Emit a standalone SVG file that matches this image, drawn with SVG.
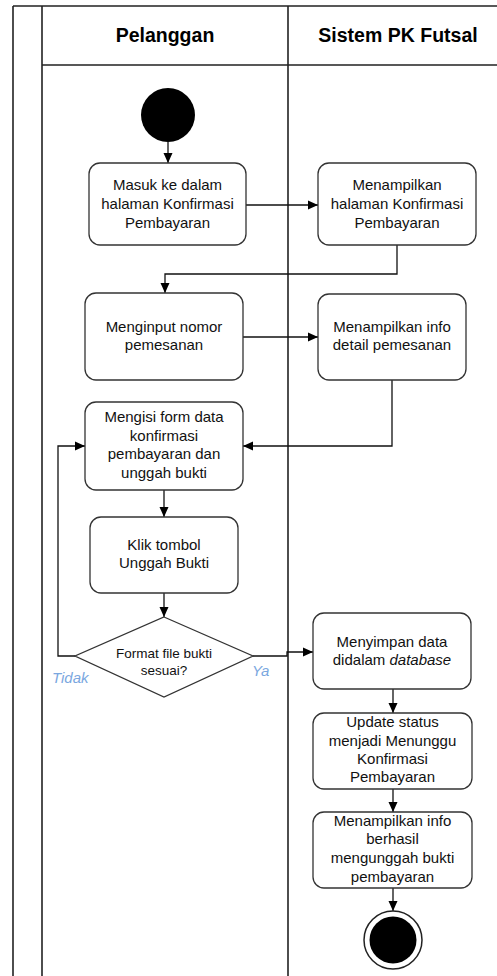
<svg xmlns="http://www.w3.org/2000/svg" width="497" height="976" viewBox="0 0 497 976">
<style>
.pool{stroke:#222;stroke-width:1.6;fill:none}
.box{fill:#fff;stroke:#333;stroke-width:1.3}
.t{font-family:"Liberation Sans",Arial,sans-serif;font-size:15px;fill:#111;text-anchor:middle}
.h{font-family:"Liberation Sans",Arial,sans-serif;font-size:19.5px;font-weight:bold;fill:#000;text-anchor:middle}
.d{font-size:13.5px}
.lbl{font-family:"Liberation Sans",Arial,sans-serif;font-size:15px;font-style:italic;fill:#7aa7e0}
.c{stroke:#111;stroke-width:1.3;fill:none;marker-end:url(#ah)}
.cn{stroke:#111;stroke-width:1.3;fill:none}
</style>
<defs>
<marker id="ah" viewBox="0 0 10 10" refX="10" refY="5" markerWidth="10" markerHeight="10" markerUnits="userSpaceOnUse" orient="auto">
<path d="M0,0.5 L10,5 L0,9.5 Z" fill="#000"/>
</marker>
</defs>
<rect width="497" height="976" fill="#fff"/>
<g id="pool">
<path class="pool" d="M13,6 H497 M13,6 V976 M42,6 V976 M288,6 V976 M42,65 H497"/>
<text class="h" x="165" y="42">Pelanggan</text>
<text class="h" x="398" y="42">Sistem PK Futsal</text>
</g>
<g id="connectors">
<path class="c" d="M168,142 V163"/>
<path class="c" d="M246,205 H318"/>
<path class="c" d="M397,245 V274 H165 V293"/>
<path class="c" d="M243,337 H318"/>
<path class="c" d="M392,380 V446 H243"/>
<path class="c" d="M164,490 V517"/>
<path class="c" d="M164,593 V617"/>
<path class="c" d="M75,656 H58 V446 H85"/>
<path class="c" d="M253,656 H287 V652 H313"/>
<path class="c" d="M393,689 V713"/>
<path class="c" d="M393,789 V812"/>
<path class="c" d="M393,888 V911"/>
</g>
<g id="start"><circle cx="168" cy="115" r="27" fill="#000"/></g>
<g id="n1">
<rect class="box" x="89" y="163" width="157" height="82" rx="11"/>
<text class="t" x="167.5" y="190">Masuk ke dalam</text>
<text class="t" x="167.5" y="209">halaman Konfirmasi</text>
<text class="t" x="167.5" y="228">Pembayaran</text>
</g>
<g id="n2">
<rect class="box" x="318" y="163" width="158" height="82" rx="11"/>
<text class="t" x="397" y="190">Menampilkan</text>
<text class="t" x="397" y="209">halaman Konfirmasi</text>
<text class="t" x="397" y="228">Pembayaran</text>
</g>
<g id="n3">
<rect class="box" x="85" y="293" width="158" height="87" rx="11"/>
<text class="t" x="164" y="332">Menginput nomor</text>
<text class="t" x="164" y="350">pemesanan</text>
</g>
<g id="n4">
<rect class="box" x="318" y="294" width="148" height="86" rx="11"/>
<text class="t" x="392" y="332">Menampilkan info</text>
<text class="t" x="392" y="350">detail pemesanan</text>
</g>
<g id="n5">
<rect class="box" x="85" y="402" width="158" height="88" rx="11"/>
<text class="t" x="164" y="422">Mengisi form data</text>
<text class="t" x="164" y="441">konfirmasi</text>
<text class="t" x="164" y="459">pembayaran dan</text>
<text class="t" x="164" y="478">unggah bukti</text>
</g>
<g id="n6">
<rect class="box" x="90" y="517" width="148" height="76" rx="11"/>
<text class="t" x="164" y="550">Klik tombol</text>
<text class="t" x="164" y="568">Unggah Bukti</text>
</g>
<g id="decision">
<path class="box" d="M164,617 L253,656 L164,697 L75,656 Z"/>
<text class="t d" x="164" y="658">Format file bukti</text>
<text class="t d" x="164" y="675">sesuai?</text>
<text class="lbl" x="52" y="683">Tidak</text>
<text class="lbl" x="252" y="676">Ya</text>
</g>
<g id="n7">
<rect class="box" x="313" y="613" width="158" height="76" rx="11"/>
<text class="t" x="392" y="647">Menyimpan data</text>
<text class="t" x="392" y="665">didalam <tspan font-style="italic">database</tspan></text>
</g>
<g id="n8">
<rect class="box" x="313" y="713" width="159" height="76" rx="11"/>
<text class="t" x="392.5" y="727">Update status</text>
<text class="t" x="392.5" y="746">menjadi Menunggu</text>
<text class="t" x="392.5" y="764">Konfirmasi</text>
<text class="t" x="392.5" y="782">Pembayaran</text>
</g>
<g id="n9">
<rect class="box" x="313" y="812" width="159" height="76" rx="11"/>
<text class="t" x="392.5" y="826">Menampilkan info</text>
<text class="t" x="392.5" y="844">berhasil</text>
<text class="t" x="392.5" y="863">mengunggah bukti</text>
<text class="t" x="392.5" y="882">pembayaran</text>
</g>
<g id="end">
<circle cx="393" cy="940" r="29" fill="#fff" stroke="#222" stroke-width="1.5"/>
<circle cx="393" cy="940" r="23.5" fill="#000"/>
</g>
</svg>
